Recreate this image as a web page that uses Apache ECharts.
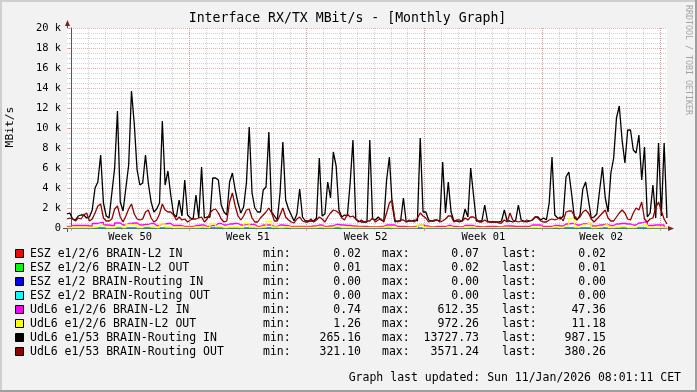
<!DOCTYPE html>
<html><head><meta charset="utf-8">
<script src="https://cdn.jsdelivr.net/npm/echarts@6/dist/echarts.min.js"></script>
<style>html,body{margin:0;padding:0;background:#f2f2f2}#c{width:697px;height:392px}</style>
</head><body><div id="c"></div>
<script>
// ---------------- DATA ----------------
const titleText = 'Interface RX/TX MBit/s - [Monthly Graph]';
const yAxisTitle = 'MBit/s';
const watermark = 'RRDTOOL / TOBI OETIKER';
const footerText = 'Graph last updated: Sun 11/Jan/2026 08:01:11 CET';
const weekLabels = ['Week 50', 'Week 51', 'Week 52', 'Week 01', 'Week 02'];
const yTickLabels = ['0', '2 k', '4 k', '6 k', '8 k', '10 k', '12 k', '14 k', '16 k', '18 k', '20 k'];

// time window in days, relative to the first midnight inside the window
const windowStartDay = -0.253;
const windowDays = 35.67;
const calendarDays = 35;
const stepMain = 1 / 6;   // 4-hour samples
const stepSub = 1 / 3;    // 8-hour samples

const seriesNames = [
  'ESZ e1/2/6 BRAIN-L2 IN', 'ESZ e1/2/6 BRAIN-L2 OUT', 'ESZ e1/2 BRAIN-Routing IN', 'ESZ e1/2 BRAIN-Routing OUT',
  'UdL6 e1/2/6 BRAIN-L2 IN', 'UdL6 e1/2/6 BRAIN-L2 OUT', 'UdL6 e1/53 BRAIN-Routing IN', 'UdL6 e1/53 BRAIN-Routing OUT'
];
const statMin = ['0.02', '0.01', '0.00', '0.00', '0.74', '1.26', '265.16', '321.10'];
const statMax = ['0.07', '0.02', '0.00', '0.00', '612.35', '972.26', '13727.73', '3571.24'];
const statLast = ['0.02', '0.01', '0.00', '0.00', '47.36', '11.18', '987.15', '380.26'];

const eszL2In = [0.03, 0.05, 0.02, 0.07, 0.04, 0.03, 0.05, 0.02];
const eszL2Out = [0.01, 0.02, 0.01, 0.02, 0.01, 0.02, 0.01, 0.01];
const eszRoutingIn = [0, 0, 0, 0, 0, 0, 0, 0];
const eszRoutingOut = [0, 0, 0, 0, 0, 0, 0, 0];

const udlL2In = [
  150, 250, 250, 250, 200, 450, 550, 300, 250, 500, 300, 450, 500, 300, 350, 450, 250, 400, 450, 250,
  250, 150, 150, 250, 300, 150, 250, 450, 300, 400, 450, 300, 350, 350, 150, 300, 300, 150, 300, 250,
  150, 150, 150, 150, 200, 300, 150, 200, 350, 300, 250, 200, 150, 150, 100, 100, 150, 300, 300, 150,
  150, 100, 150, 300, 200, 100, 150, 150, 250, 150, 100, 250, 250, 150, 100, 150, 150, 100, 200, 200,
  150, 150, 150, 300, 300, 150, 150, 250, 200, 400, 450, 300, 400, 450, 200, 300, 350, 250, 400, 450,
  400, 300, 500, 600, 250, 300, 300, 50
];
const udlL2Out = [
  50, 50, 50, 50, 50, 100, 250, 50, 50, 150, 50, 350, 300, 50, 200, 100, 50, 400, 100, 50,
  50, 50, 50, 50, 100, 50, 400, 150, 50, 100, 100, 50, 450, 100, 50, 100, 650, 100, 50, 100,
  50, 50, 50, 50, 50, 100, 50, 50, 150, 50, 50, 50, 50, 30, 30, 30, 50, 100, 50, 30,
  30, 30, 50, 300, 50, 30, 30, 30, 50, 30, 30, 50, 100, 30, 30, 30, 30, 30, 50, 30,
  30, 30, 30, 50, 50, 30, 30, 100, 50, 200, 970, 100, 300, 450, 50, 100, 300, 50, 100, 150,
  50, 50, 200, 300, 50, 50, 50, 11
];
const udlRoutingIn = [
  1400, 1500, 900, 800, 1200, 1300, 1300, 1000, 1100, 1800,
  4000, 4600, 7300, 2500, 1200, 1000, 3500, 6000, 11700, 2600,
  1700, 4000, 6300, 13700, 10400, 5800, 4300, 4500, 7300, 4500,
  2600, 1600, 1900, 2500, 10700, 4300, 5700, 3300, 1400, 1100,
  2800, 1200, 4800, 1300, 1000, 900, 3300, 1000, 6100, 1000,
  1100, 1100, 5000, 5000, 4800, 2300, 1600, 1300, 4600, 5500,
  3800, 2500, 1500, 2100, 4500, 10100, 3500, 2000, 1600, 1600,
  3800, 4100, 9600, 1600, 1200, 800, 3500, 8600, 2800, 1900,
  1300, 700, 1400, 3900, 1100, 700, 700, 700, 700, 1000,
  7000, 1200, 1400, 4600, 3000, 7600, 6200, 1800, 1100, 1300,
  1200, 4500, 8800, 900, 700, 600, 600, 600, 8800, 900,
  800, 1100, 800, 700, 4800, 7100, 2300, 600, 700, 700,
  3000, 600, 700, 700, 800, 700, 9000, 1600, 1600, 800,
  700, 700, 800, 700, 6600, 1500, 4600, 1600, 700, 700,
  600, 700, 1900, 1100, 6000, 3300, 700, 700, 700, 2300,
  700, 600, 600, 600, 600, 700, 1800, 700, 700, 600,
  700, 2300, 800, 700, 600, 700, 800, 1100, 1100, 800,
  1000, 800, 2500, 7100, 1300, 1000, 900, 1200, 5100, 5600,
  3400, 1000, 800, 1300, 3900, 4600, 2800, 1000, 1100, 1400,
  3800, 6100, 3000, 1600, 5500, 7000, 11000, 12200, 8800, 6500,
  9800, 9800, 7800, 7500, 9300, 4800, 8100, 1100, 1500, 4300,
  1000, 8500, 1200, 8500, 1000
];
const udlRoutingOut = [
  900, 1000, 900, 700, 1000, 900, 1300, 1500, 700, 900,
  1500, 2200, 2400, 1000, 700, 700, 900, 1900, 2200, 1100,
  600, 1200, 1900, 2400, 1400, 900, 800, 900, 1600, 1800,
  1000, 600, 800, 1400, 2400, 1800, 1600, 1600, 1300, 800,
  1100, 800, 900, 600, 800, 900, 900, 1000, 1100, 600,
  900, 1500, 1800, 1900, 1500, 900, 600, 700, 2600, 3500,
  2200, 1200, 800, 1200, 1800, 1900, 1000, 600, 600, 1000,
  1300, 1600, 2000, 1500, 700, 700, 1300, 2000, 1100, 800,
  600, 500, 900, 1100, 700, 600, 600, 900, 600, 800,
  1100, 900, 600, 1100, 1500, 1800, 1700, 1500, 1000, 800,
  1400, 1100, 1200, 900, 600, 800, 600, 700, 700, 1000,
  600, 800, 900, 600, 1500, 2500, 2800, 800, 600, 800,
  800, 600, 800, 700, 600, 1000, 1500, 1200, 1000, 600,
  700, 800, 800, 600, 700, 900, 1200, 1200, 600, 800,
  800, 700, 1000, 800, 1100, 1100, 900, 600, 600, 800,
  600, 600, 600, 600, 500, 500, 800, 600, 1500, 800,
  700, 600, 700, 600, 800, 700, 800, 1100, 1000, 700,
  600, 600, 800, 900, 800, 900, 1100, 700, 1600, 1700,
  1700, 1200, 900, 1100, 1600, 1800, 1500, 900, 600, 900,
  1200, 1500, 1800, 1000, 700, 700, 1100, 1500, 1800, 1500,
  900, 800, 1500, 2000, 1800, 2600, 900, 600, 900, 1000,
  2000, 2600, 1700, 900, 400
];

// ---------------- STYLE / LAYOUT ----------------
const seriesColors = ['#ff0000', '#00ff00', '#0000ff', '#00ffff', '#ff00ff', '#ffff00', '#000000', '#960000'];
const seriesStep = [false, false, false, false, 'middle', 'middle', false, false];
const MONO = '"DejaVu Sans Mono", monospace';
const plotLeft = 67, plotTop = 28, plotWidth = 600, plotHeight = 200;
const calLeft = plotLeft + plotWidth * (-windowStartDay) / windowDays;
const calWidth = plotWidth * calendarDays / windowDays;
const minorGrid = 'rgba(150,150,150,0.42)';
const majorGrid = 'rgba(225,90,90,0.5)';
const axisColor = '#555';
const arrowColor = '#801f1f';

function pairs(values, step) {
  return values.map((v, i) => [windowStartDay + i * step, v]);
}
const tinyStep = windowDays / 7;
const allData = [
  pairs(eszL2In, tinyStep), pairs(eszL2Out, tinyStep), pairs(eszRoutingIn, tinyStep), pairs(eszRoutingOut, tinyStep),
  pairs(udlL2In, stepSub), pairs(udlL2Out, stepSub), pairs(udlRoutingIn, stepMain), pairs(udlRoutingOut, stepMain)
];

const series = seriesNames.map((name, k) => ({
  name: name, type: 'line', xAxisIndex: 0, yAxisIndex: 0,
  data: allData[k], step: seriesStep[k], symbol: 'none', silent: true,
  lineStyle: { color: seriesColors[k], width: k >= 4 ? 1.3 : 1 }, z: 3 + k * 0.01
}));

const graphic = [];
graphic.push({ type: 'rect', shape: { x: 0, y: 0, width: 697, height: 2 }, style: { fill: '#cfcfcf' }, silent: true });
graphic.push({ type: 'rect', shape: { x: 0, y: 0, width: 2, height: 392 }, style: { fill: '#cfcfcf' }, silent: true });
graphic.push({ type: 'rect', shape: { x: 695, y: 0, width: 2, height: 392 }, style: { fill: '#9e9e9e' }, silent: true });
graphic.push({ type: 'rect', shape: { x: 0, y: 390, width: 697, height: 2 }, style: { fill: '#9e9e9e' }, silent: true });
graphic.push({ type: 'text', x: 347.5, y: 19, style: { text: titleText, font: '13.2px ' + MONO, fill: '#000', align: 'center', verticalAlign: 'middle' }, silent: true });
graphic.push({ type: 'text', x: 10.5, y: 127, rotation: Math.PI / 2, style: { text: yAxisTitle, font: '11.3px ' + MONO, fill: '#000', align: 'center', verticalAlign: 'middle' }, silent: true });
graphic.push({ type: 'text', x: 688.5, y: 60, rotation: -Math.PI / 2, style: { text: watermark, font: '8.3px ' + MONO, fill: '#a4a4a4', align: 'center', verticalAlign: 'middle' }, silent: true });
graphic.push({ type: 'line', shape: { x1: plotLeft + 0.5, y1: plotTop, x2: plotLeft + 0.5, y2: plotTop - 4 }, style: { stroke: axisColor, lineWidth: 1 }, silent: true });
graphic.push({ type: 'line', shape: { x1: plotLeft + 0.5, y1: plotTop + plotHeight, x2: plotLeft + 0.5, y2: plotTop + plotHeight + 4 }, style: { stroke: axisColor, lineWidth: 1 }, silent: true });
graphic.push({ type: 'line', shape: { x1: plotLeft - 4, y1: plotTop + plotHeight + 0.5, x2: plotLeft, y2: plotTop + plotHeight + 0.5 }, style: { stroke: axisColor, lineWidth: 1 }, silent: true });
graphic.push({ type: 'polygon', shape: { points: [[plotLeft - 2, plotTop - 2], [plotLeft + 3, plotTop - 2], [plotLeft + 0.5, plotTop - 8]] }, style: { fill: arrowColor }, silent: true });
graphic.push({ type: 'polygon', shape: { points: [[plotLeft + plotWidth + 1, plotTop + plotHeight - 2], [plotLeft + plotWidth + 1, plotTop + plotHeight + 3], [plotLeft + plotWidth + 7, plotTop + plotHeight + 0.5]] }, style: { fill: arrowColor }, silent: true });
const LEG = '11.5px ' + MONO;
seriesNames.forEach((name, k) => {
  const y = 254 + k * 14;
  graphic.push({ type: 'rect', shape: { x: 15.5, y: y - 4.5, width: 8, height: 8 }, style: { fill: seriesColors[k], stroke: '#000', lineWidth: 1 }, silent: true });
  graphic.push({ type: 'text', x: 30, y: y, style: { text: name, font: LEG, fill: '#000', align: 'left', verticalAlign: 'middle' }, silent: true });
  graphic.push({ type: 'text', x: 263, y: y, style: { text: 'min:', font: LEG, fill: '#000', align: 'left', verticalAlign: 'middle' }, silent: true });
  graphic.push({ type: 'text', x: 361, y: y, style: { text: statMin[k], font: LEG, fill: '#000', align: 'right', verticalAlign: 'middle' }, silent: true });
  graphic.push({ type: 'text', x: 382, y: y, style: { text: 'max:', font: LEG, fill: '#000', align: 'left', verticalAlign: 'middle' }, silent: true });
  graphic.push({ type: 'text', x: 479, y: y, style: { text: statMax[k], font: LEG, fill: '#000', align: 'right', verticalAlign: 'middle' }, silent: true });
  graphic.push({ type: 'text', x: 502, y: y, style: { text: 'last:', font: LEG, fill: '#000', align: 'left', verticalAlign: 'middle' }, silent: true });
  graphic.push({ type: 'text', x: 606, y: y, style: { text: statLast[k], font: LEG, fill: '#000', align: 'right', verticalAlign: 'middle' }, silent: true });
});
graphic.push({ type: 'text', x: 681, y: 378, style: { text: footerText, font: LEG, fill: '#000', align: 'right', verticalAlign: 'middle' }, silent: true });

const option = {
  animation: false,
  backgroundColor: '#f2f2f2',
  grid: [
    { left: plotLeft, top: plotTop, width: plotWidth, height: plotHeight, show: true, backgroundColor: '#ffffff', borderWidth: 0 },
    { left: calLeft, top: plotTop, width: calWidth, height: plotHeight, show: false }
  ],
  xAxis: [
    { type: 'value', gridIndex: 0, position: 'bottom', min: windowStartDay, max: windowStartDay + windowDays,
      axisLine: { show: true, onZero: false, lineStyle: { color: axisColor, width: 1 } },
      axisTick: { show: false }, axisLabel: { show: false }, splitLine: { show: false } },
    { type: 'value', gridIndex: 1, position: 'bottom', min: 0, max: calendarDays, interval: 1,
      axisLine: { show: false, onZero: false }, axisLabel: { show: false },
      axisTick: { show: true, length: 2, lineStyle: { color: minorGrid } },
      splitLine: { show: true, lineStyle: { color: minorGrid, width: 1, type: [1, 1] } } },
    { type: 'category', gridIndex: 1, position: 'bottom', data: weekLabels, boundaryGap: true,
      axisLine: { show: false, onZero: false },
      axisTick: { show: true, interval: 0, length: 3, lineStyle: { color: majorGrid } },
      axisLabel: { show: true, interval: 0, margin: 4, color: '#000', fontFamily: 'DejaVu Sans Mono', fontSize: 10.4 },
      splitLine: { show: true, interval: 0, showMinLine: false, lineStyle: { color: majorGrid, width: 1, type: [1, 1] } } }
  ],
  yAxis: [
    { type: 'value', gridIndex: 0, min: 0, max: 20000, interval: 2000,
      axisLine: { show: true, lineStyle: { color: axisColor, width: 1 } },
      axisTick: { show: true, length: 3, lineStyle: { color: majorGrid } },
      minorTick: { show: true, splitNumber: 4, length: 2, lineStyle: { color: minorGrid } },
      axisLabel: { margin: 6, color: '#000', fontFamily: 'DejaVu Sans Mono', fontSize: 10.4,
        formatter: v => yTickLabels[Math.round(v / 2000)] },
      splitLine: { show: true, lineStyle: { color: majorGrid, width: 1, type: [1, 1] } },
      minorSplitLine: { show: true, lineStyle: { color: minorGrid, width: 1, type: [1, 1] } } },
    { type: 'value', gridIndex: 1, min: 0, max: 1, show: false }
  ],
  series: series,
  graphic: graphic
};
const chart = echarts.init(document.getElementById('c'), null, { renderer: 'canvas' });
chart.setOption(option);
</script></body></html>
